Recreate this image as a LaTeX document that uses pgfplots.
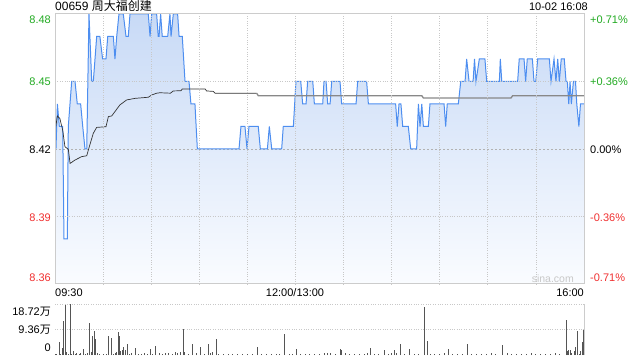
\documentclass[border=0pt]{standalone}
\usepackage{pgfplots}
\pgfplotsset{compat=1.18}
\usepackage{pgfplotstable}
\usepackage{fontspec}
\setmainfont{Liberation Sans}
\newfontfamily\cjk{Noto Sans CJK SC}
\definecolor{pline}{RGB}{77,142,240}
\definecolor{ftop}{RGB}{200,218,246}
\definecolor{fbot}{RGB}{250,252,255}
\definecolor{gridc}{RGB}{200,200,200}
\definecolor{framec}{RGB}{204,204,204}
\definecolor{upg}{RGB}{34,170,34}
\definecolor{dnr}{RGB}{240,48,48}
\definecolor{volc}{RGB}{85,85,85}
\definecolor{avgd}{RGB}{51,51,51}
\definecolor{avgg}{RGB}{136,136,136}

\pgfplotstableread{
m p
0 8.44
0.6 8.42
1.5 8.44
2.7 8.43
4.8 8.43
5.6 8.38
7.7 8.38
8.3 8.43
10.4 8.45
12.5 8.45
13.9 8.44
16 8.44
17.3 8.43
18.7 8.42
19.8 8.42
21.2 8.48
22.9 8.45
23.9 8.45
26 8.47
28 8.47
29.7 8.46
31.8 8.46
32.9 8.47
36.4 8.47
37.4 8.46
38.5 8.47
39.9 8.48
42.6 8.48
44.3 8.47
45.7 8.47
46.8 8.48
58.2 8.48
59.3 8.47
60.3 8.48
63.4 8.48
64.4 8.47
64.9 8.47
65.9 8.48
66.9 8.47
70.3 8.47
71.7 8.48
72.4 8.47
73.8 8.48
76.5 8.48
77.4 8.47
79.4 8.47
81.1 8.45
83.6 8.45
84.8 8.44
87.3 8.44
88.8 8.42
114.8 8.42
116 8.43
118.5 8.43
119.8 8.42
121 8.43
126.8 8.43
128.1 8.42
132.5 8.42
133.7 8.43
135.2 8.42
141.4 8.42
142.4 8.43
148.7 8.43
150.3 8.45
153.3 8.45
154.5 8.44
156.6 8.44
157.6 8.45
160.8 8.45
161.8 8.44
167 8.44
167.8 8.45
169.1 8.45
170.1 8.44
171.6 8.44
172.6 8.45
177.8 8.45
178.8 8.44
187.8 8.44
188.8 8.45
194.4 8.45
195.5 8.44
212.5 8.44
213.5 8.43
214.6 8.44
215.8 8.44
216.9 8.43
220.4 8.43
221.9 8.42
225.6 8.42
226.7 8.44
227.7 8.43
228.8 8.44
229.8 8.43
232.9 8.43
233.9 8.44
242.7 8.44
243.7 8.43
244.7 8.44
251.6 8.44
253.1 8.45
255.8 8.45
256.8 8.46
258.3 8.45
260.8 8.45
261.7 8.46
262.6 8.45
264.7 8.46
268.2 8.46
269.3 8.45
277.2 8.45
277.8 8.46
278.7 8.45
288.6 8.45
289.6 8.46
292.6 8.46
293.6 8.45
294.6 8.46
297.8 8.46
298.8 8.45
299.9 8.45
301.1 8.46
308.4 8.46
309.4 8.45
311.3 8.46
312.5 8.45
313.6 8.46
314.6 8.45
315.8 8.46
317.7 8.46
318.8 8.45
319.6 8.45
320.5 8.44
321.3 8.45
322.1 8.44
323.4 8.45
324.7 8.45
325.5 8.44
326.8 8.43
327.8 8.44
330 8.44
}\price

\pgfplotstableread{
m a
0 8.4277
1.5 8.4347
3 8.4336
4.8 8.4284
6.2 8.4210
8.3 8.4199
9.4 8.4136
12.5 8.4151
16.6 8.4166
19.8 8.4170
21.4 8.4210
23.9 8.4270
26 8.4296
31.8 8.4299
33.3 8.4344
35.4 8.4347
38.1 8.4373
40.5 8.4396
44.7 8.4418
49.9 8.4425
58.2 8.4430
60.3 8.4440
63.4 8.4448
65.5 8.4450
72 8.4448
73.8 8.4458
78.6 8.4459
79.4 8.4467
93.6 8.4467
94.6 8.4458
98.8 8.4456
99.8 8.4448
125.8 8.4448
}\avgA

\pgfplotstableread{
m a
125.8 8.4448
126.8 8.4437
228.8 8.4437
229.8 8.4427
284.5 8.4427
285.5 8.4437
330 8.4437
}\avgB

\pgfplotstableread{
m v
0 0.3
1 0.2
2.7 4.9
3.5 0.4
4.6 2.5
5.2 12.6
6.4 18.2
7.3 1.2
8.5 0.5
9.8 18.7
10.5 0.4
11.4 1.5
12.5 0.3
13.5 0.8
15 0.4
16 0.9
17.7 2.2
19 0.4
20 0.6
21.6 11.7
22.7 1.2
23.5 6.8
24.5 8.9
25.2 5.7
26.5 0.6
28 0.5
30 0.4
32 0.5
33.3 6.8
35.1 6.4
36.5 0.5
37.5 0.6
38.5 1.2
39.5 8.6
40.1 7.1
41 1.5
42 1.8
43 3.1
44 1.8
45.1 3.9
46.5 0.5
48 0.6
50.1 2.7
52 0.4
54 0.5
56 0.6
57.5 0.5
59.3 2.2
61 0.4
63 3.4
65 0.6
67 0.4
69 0.8
71 0.9
73 0.5
75 1.0
76.5 0.8
78 1.1
80 9.4
81 1.2
83 0.5
85.7 4.1
88 0.6
90.9 3.1
93 0.5
95.6 4.1
97 0.6
98.5 1.1
100.6 5.7
102 0.4
105 0.3
108 0.3
111 0.4
114 0.4
117 0.3
120 0.5
123 0.4
126.2 3.0
129 0.3
132 0.3
135 0.4
138 0.3
140 0.4
143 7.8
146 0.3
148 0.3
150.8 2.2
153 0.4
156 0.3
159 0.4
162 0.3
165 0.5
168 0.6
170 0.9
172 0.6
175 0.5
177.8 2.1
178.8 1.8
181 0.6
184 0.3
187 0.4
190 0.3
193 0.3
195 0.8
197.1 2.5
199 0.5
202 0.4
205.4 1.8
208 0.4
210 0.6
211.7 1.8
213 0.8
215.4 4.1
218 0.5
221 2.2
224 0.3
227 0.5
230.4 17.6
232.3 5.2
234 0.5
237 0.4
240 0.3
243 0.8
245.4 2.2
248 0.3
251 0.4
254 0.3
257.2 4.1
260 0.3
263 0.4
266 0.5
269 0.3
272 0.8
275 0.4
279 3.7
282 0.6
285 0.4
288 0.5
291 0.3
294 0.4
297 0.6
300 0.4
303 0.3
306 0.5
309 0.4
312 0.6
315 0.3
318.8 12.7
319.6 1.6
320.2 1.8
321.3 1.8
322.5 0.6
323.8 1.3
325 3.1
325.8 8.9
327 0.4
328 1.4
328.9 4.6
329.8 9.2
}\vol

\begin{document}
\begin{tikzpicture}
\path[use as bounding box] (0,0) rectangle (640bp,360bp);
\fontsize{11bp}{13bp}\selectfont

\begin{axis}[
  at={(55bp,76bp)}, anchor=south west,
  scale only axis, width=529bp, height=270bp,
  xmin=0, xmax=330, ymin=8.36, ymax=8.48,
  xtick={30,60,...,300}, ytick={8.39,8.45},
  xticklabels={}, yticklabels={},
  xticklabel={\relax}, yticklabel={\relax},
  major tick length=0pt,
  grid=major,
  major grid style={gridc, dotted, line width=0.8bp},
  axis line style={framec, line width=1bp},
  axis on top,
  clip=true,
]
\addplot[draw=none, top color=ftop, bottom color=fbot]
  table[x=m,y=p] {\price} -- (axis cs:330,8.36) -- (axis cs:0,8.36) -- cycle;
\addplot[gridc!70!gray, line width=0.8bp, dash pattern=on 2bp off 2bp] coordinates {(0,8.42) (330,8.42)};
\addplot[pline, line width=1bp] table[x=m,y=p] {\price};
\addplot[avgd, line width=0.7bp] table[x=m,y=a] {\avgA};
\addplot[avgg, line width=1.3bp] table[x=m,y=a] {\avgB};
\end{axis}

\begin{axis}[
  at={(55bp,5bp)}, anchor=south west,
  scale only axis, width=529bp, height=51bp,
  xmin=0, xmax=330, ymin=0, ymax=18.72,
  xtick=\empty, ytick={9.36,18.72},
  yticklabels={}, yticklabel={\relax},
  major tick length=0pt,
  ymajorgrids,
  major grid style={gridc, dotted, line width=0.8bp},
  axis line style={draw=none},
  clip=false,
]
\addplot[ycomb, volc, line width=1bp] table[x=m,y=v] {\vol};
\draw[framec, line width=1bp] (rel axis cs:1,0) -- (rel axis cs:1,1);
\end{axis}

% title and date
\node[anchor=base west, inner sep=0] at (55bp,349bp) {\fontsize{12bp}{14bp}\selectfont 00659 {\cjk 周大福创建}};
\node[anchor=base east, inner sep=0] at (588bp,349.5bp) {10-02 16:08};

% left price labels
\node[anchor=east, inner sep=0, text=upg] at (51bp,340bp) {8.48};
\node[anchor=east, inner sep=0, text=upg] at (51bp,278bp) {8.45};
\node[anchor=east, inner sep=0, text=black] at (51bp,210.3bp) {8.42};
\node[anchor=east, inner sep=0, text=dnr] at (51bp,142.7bp) {8.39};
\node[anchor=east, inner sep=0, text=dnr] at (51bp,82.3bp) {8.36};

% right percent labels
\node[anchor=west, inner sep=0, text=upg] at (590bp,340bp) {+0.71\%};
\node[anchor=west, inner sep=0, text=upg] at (590bp,278bp) {+0.36\%};
\node[anchor=west, inner sep=0, text=black] at (590bp,210.3bp) {0.00\%};
\node[anchor=west, inner sep=0, text=dnr] at (590bp,142.7bp) {-0.36\%};
\node[anchor=west, inner sep=0, text=dnr] at (590bp,82.3bp) {-0.71\%};

% time labels
\node[anchor=west, inner sep=0] at (55bp,67bp) {09:30};
\node[inner sep=0] at (295bp,67bp) {12:00/13:00};
\node[anchor=east, inner sep=0] at (584bp,67bp) {16:00};

% watermark
\node[anchor=east, inner sep=0, text=gridc] at (574bp,81bp) {\fontsize{10.5bp}{12bp}\selectfont sina.com};

% volume labels
\node[anchor=east, inner sep=0] at (51bp,48.3bp) {18.72{\cjk 万}};
\node[anchor=east, inner sep=0] at (51bp,30bp) {9.36{\cjk 万}};
\node[anchor=east, inner sep=0] at (51bp,12bp) {0};
\end{tikzpicture}
\end{document}
